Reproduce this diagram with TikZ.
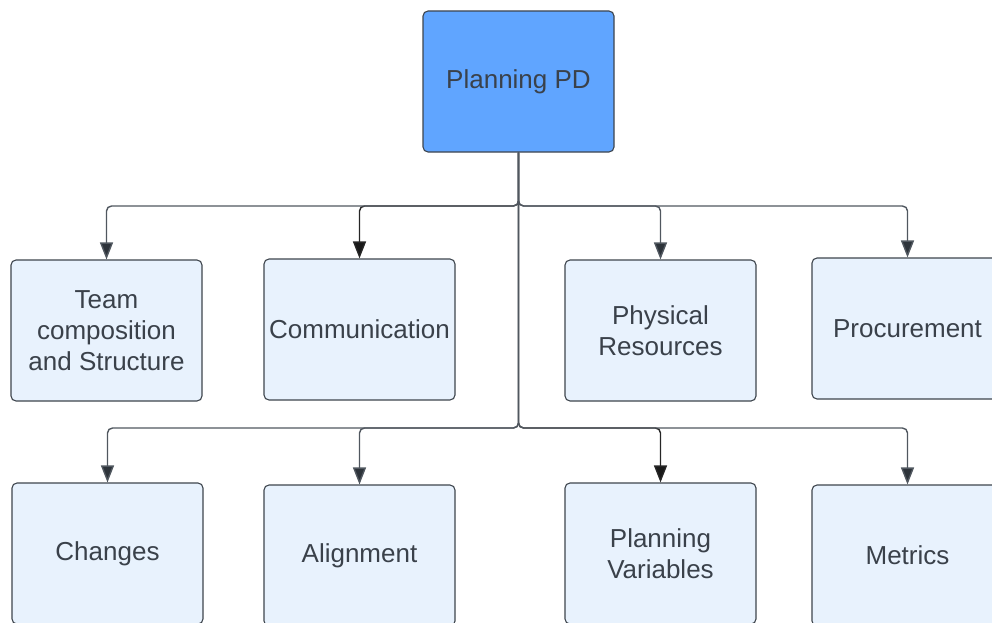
\documentclass[tikz,border=0pt]{standalone}
\usepackage{fontspec}
\setmainfont{Liberation Sans}
\usetikzlibrary{arrows.meta}
\definecolor{pdblue}{HTML}{60A5FF}
\definecolor{boxfill}{HTML}{E8F2FD}
\definecolor{boxline}{HTML}{3E454D}
\definecolor{txtgray}{HTML}{3A414A}
\definecolor{connline}{HTML}{50575F}
\definecolor{tipgray}{HTML}{2D333A}
\tikzset{
    topbox/.style={draw=boxline, line width=1.1pt, fill=pdblue, rounded corners=5pt,
        minimum width=191pt, minimum height=141pt, align=center, text=txtgray,
        font=\fontsize{26}{31}\selectfont},
    subbox/.style={topbox, fill=boxfill},
    conn/.style={draw=connline, line width=1.4pt, rounded corners=5pt,
        -{Triangle[length=17pt, width=13pt, fill=tipgray]}},
    darkconn/.style={conn, draw=black!85, -{Triangle[length=17pt, width=13pt, fill=black!90]}}
}
\begin{document}
\begin{tikzpicture}[x=1pt, y=-1pt]
    \useasboundingbox (0, 0) rectangle (992, 623);
    \clip (0, 0) rectangle (992, 623);

    \node[topbox] (pd) at (518.5, 81.5) {Planning PD};

    \begin{scope}
        \node[subbox] (team) at (106.5, 330.5) {Team\\composition\\and Structure};
        \node[subbox] (comm) at (359.5, 329.5) {Communication};
        \node[subbox] (phys) at (660.5, 330.5) {Physical\\Resources};
        \node[subbox] (proc) at (907.5, 328.5) {Procurement};
    \end{scope}

    \begin{scope}
        \node[subbox] (chg) at (107.5, 553.5) {Changes};
        \node[subbox] (align) at (359.5, 555.5) {Alignment};
        \node[subbox] (pvar) at (660.5, 553.5) {Planning\\Variables};
        \node[subbox] (metr) at (907.5, 555.5) {Metrics};
    \end{scope}

    \coordinate (busa) at (518.5, 206);
    \coordinate (busb) at (518.5, 428);

    % the two darker arrows first, the grey ones over them
    \draw[darkconn] (pd.south) -- (busa) -| (comm.north);
    \draw[darkconn] (pd.south) -- (busb) -| (pvar.north);

    \draw[conn] (pd.south) -- (busa) -| (team.north);
    \draw[conn] (pd.south) -- (busa) -| (phys.north);
    \draw[conn] (pd.south) -- (busa) -| (proc.north);

    \draw[conn] (pd.south) -- (busb) -| (chg.north);
    \draw[conn] (pd.south) -- (busb) -| (align.north);
    \draw[conn] (pd.south) -- (busb) -| (metr.north);
\end{tikzpicture}
\end{document}
